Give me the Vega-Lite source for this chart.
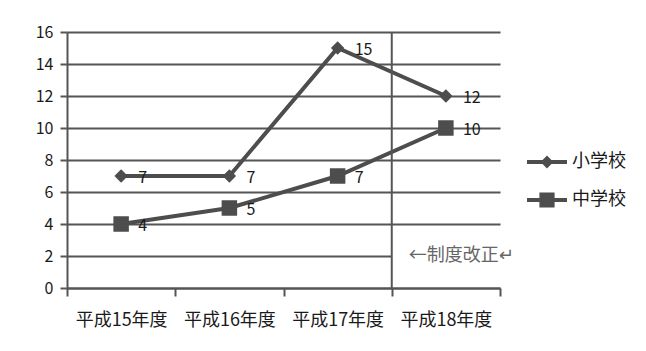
{
  "$schema": "https://vega.github.io/schema/vega-lite/v6.json",
  "width": 433,
  "height": 256,
  "autosize": "none",
  "padding": {"left": 67, "top": 32, "right": 146, "bottom": 63},
  "background": "white",
  "config": {
    "font": "Noto Sans CJK JP",
    "view": {"stroke": null}
  },
  "datasets": {
    "main": [
      {"year": "平成15年度", "school": "小学校", "value": 7},
      {"year": "平成16年度", "school": "小学校", "value": 7},
      {"year": "平成17年度", "school": "小学校", "value": 15},
      {"year": "平成18年度", "school": "小学校", "value": 12},
      {"year": "平成15年度", "school": "中学校", "value": 4},
      {"year": "平成16年度", "school": "中学校", "value": 5},
      {"year": "平成17年度", "school": "中学校", "value": 7},
      {"year": "平成18年度", "school": "中学校", "value": 10}
    ],
    "note": [
      {"year": "平成18年度", "value": 2, "lo": 1.55, "hi": 2.45, "label": "←制度改正↵"}
    ]
  },
  "encoding": {
    "x": {
      "field": "year", "type": "nominal", "title": null,
      "scale": {"type": "band", "paddingInner": 0, "paddingOuter": 0},
      "axis": {
        "labelAngle": 0, "labelFontSize": 18, "labelColor": "#1a1a1a",
        "domainColor": "#555", "domainWidth": 2,
        "tickColor": "#555", "tickWidth": 2, "tickSize": 8, "tickBand": "extent",
        "labelPadding": 15, "grid": false
      }
    },
    "y": {
      "field": "value", "type": "quantitative", "title": null,
      "scale": {"domain": [0, 16], "nice": false},
      "axis": {
        "values": [0, 2, 4, 6, 8, 10, 12, 14, 16],
        "labelOverlap": false,
        "labelFontSize": 16, "labelColor": "#1a1a1a",
        "domainColor": "#555", "domainWidth": 2,
        "tickColor": "#555", "tickWidth": 2, "tickSize": 7, "labelPadding": 7,
        "gridColor": "#555", "gridWidth": 2, "gridOpacity": 1
      }
    }
  },
  "layer": [
    {
      "data": {"name": "main"},
      "mark": {"type": "line", "strokeWidth": 4, "color": "#4d4d4d"},
      "encoding": {
        "detail": {"field": "school"},
        "color": {
          "field": "school", "type": "nominal", "title": null,
          "scale": {"domain": ["小学校", "中学校"], "range": ["#4d4d4d", "#4d4d4d"]},
          "legend": {
            "orient": "none", "legendX": 460, "legendY": 110,
            "labelFontSize": 18, "labelColor": "#1a1a1a", "labelOffset": 5,
            "symbolSize": 1600, "rowPadding": 9,
            "encode": {
              "symbols": {
                "update": {
                  "shape": {"signal": "datum.label === '小学校' ? 'M-1,-0.1H1V0.1H-1Z M-0.32,0L0,-0.32L0.32,0L0,0.32Z' : 'M-1,-0.1H1V0.1H-1Z M-0.38,-0.38H0.38V0.38H-0.38Z'"},
                  "fill": {"value": "#4d4d4d"},
                  "fillOpacity": {"value": 1},
                  "strokeWidth": {"value": 0}
                }
              }
            }
          }
        }
      }
    },
    {
      "data": {"name": "main"},
      "transform": [{"filter": "datum.school === '小学校'"}],
      "mark": {"type": "point", "shape": "diamond", "size": 180, "filled": true, "opacity": 1, "color": "#4d4d4d"}
    },
    {
      "data": {"name": "main"},
      "transform": [{"filter": "datum.school === '中学校'"}],
      "mark": {"type": "point", "shape": "square", "size": 240, "filled": true, "opacity": 1, "color": "#4d4d4d"}
    },
    {
      "data": {"name": "main"},
      "mark": {"type": "text", "align": "left", "baseline": "middle", "dx": 17, "dy": 2, "fontSize": 16, "color": "#1a1a1a"},
      "encoding": {
        "text": {"field": "value", "type": "quantitative"}
      }
    },
    {
      "data": {"name": "note"},
      "mark": {"type": "rect", "color": "white"},
      "encoding": {
        "y": {"field": "lo", "type": "quantitative"},
        "y2": {"field": "hi"}
      }
    },
    {
      "data": {"name": "note"},
      "mark": {"type": "rule", "color": "#555", "strokeWidth": 2},
      "encoding": {
        "x": {"field": "year", "type": "nominal", "bandPosition": 0},
        "y": null
      }
    },
    {
      "data": {"name": "note"},
      "mark": {"type": "text", "align": "left", "baseline": "middle", "dx": 17, "fontSize": 18, "color": "#666"},
      "encoding": {
        "x": {"field": "year", "type": "nominal", "bandPosition": 0},
        "text": {"field": "label"}
      }
    }
  ]
}
